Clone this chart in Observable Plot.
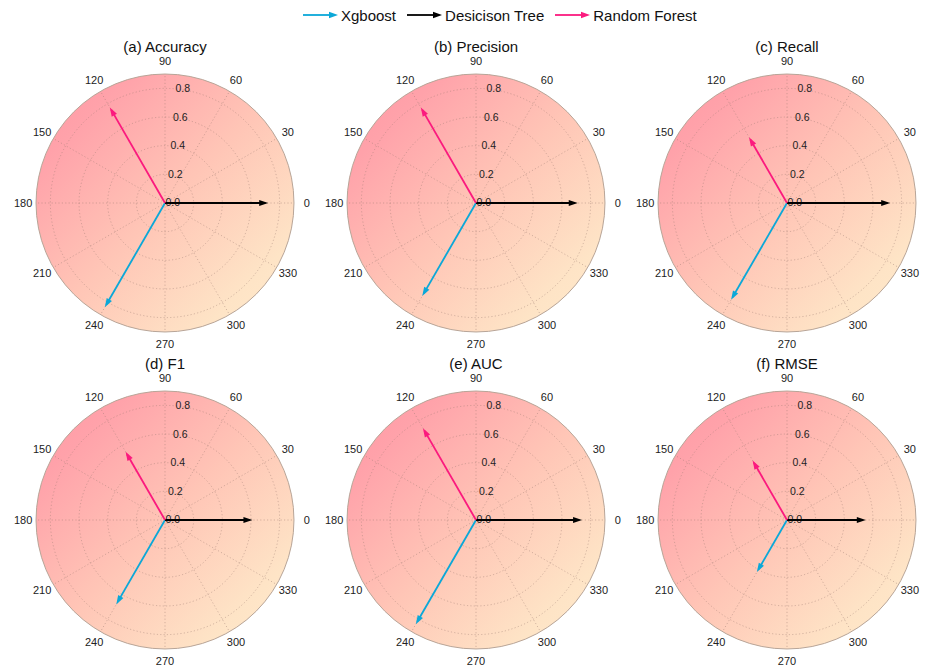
<!DOCTYPE html>
<html>
<head>
<meta charset="utf-8">
<script src="https://cdn.jsdelivr.net/npm/d3@7"></script>
<script src="https://cdn.jsdelivr.net/npm/@observablehq/plot@0.6"></script>
<style>
  html, body { margin: 0; padding: 0; background: #fff; overflow: hidden; width: 925px; height: 668px; }
  body { font-family: "Liberation Sans", Arial, Helvetica, sans-serif; color: #111; }
  #legend { height: 30px; display: flex; align-items: center; padding-left: 303px; font-size: 15px; box-sizing: border-box; }
  #legend .item { display: flex; align-items: center; margin-right: 11px; }
  #legend svg { margin-right: 3px; }
  #chart svg { display: block; }
</style>
</head>
<body>
<div id="legend"></div>
<div id="chart"></div>
<script>
// Model comparison: each metric drawn as three vectors on a polar grid,
// one per model, with arrow length equal to the metric value.
const metrics = ["(a) Accuracy", "(b) Precision", "(c) Recall", "(d) F1", "(e) AUC", "(f) RMSE"];
const models = ["Xgboost", "Desicison Tree", "Random Forest"];
const modelAngles = [240, 0, 120];
const modelColors = ["#0ba8d8", "#000000", "#fb1a7e"];

const xgboost      = [0.84, 0.75, 0.78, 0.68, 0.84, 0.42];
const decisionTree = [0.72, 0.71, 0.72, 0.61, 0.74, 0.55];
const randomForest = [0.77, 0.77, 0.53, 0.55, 0.74, 0.48];

const angleTicks = [0, 30, 60, 90, 120, 150, 180, 210, 240, 270, 300, 330];
const ringTicks = [0.2, 0.4, 0.6, 0.8];
const radialLabels = [0.0, 0.2, 0.4, 0.6, 0.8];
const rMax = 0.9;

// layout
const PX = 143.3;              // pixels per unit of radius
const COL_STEP = 311, ROW_STEP = 317;
const NCOL = 3, NROW = 2;

const series = [xgboost, decisionTree, randomForest];
const panels = metrics.map((title, i) => ({title, col: i % NCOL, row: Math.floor(i / NCOL)}));
const arrows = [];
panels.forEach((p, i) => {
  models.forEach((model, k) => {
    arrows.push({...p, model, angle: modelAngles[k], value: series[k][i]});
  });
});

const rad = a => a * Math.PI / 180;
const cx = (r, a) => r * Math.cos(rad(a));
const cy = (r, a) => r * Math.sin(rad(a));
const zero = () => 0;

// filled narrow head drawn by the vector mark
const head = {
  draw(context, l) {
    context.moveTo(0, -l);
    context.lineTo(-3, 0);
    context.lineTo(3, 0);
    context.closePath();
  }
};

const xHalf = COL_STEP / 2 / PX;
const yHalf = ROW_STEP / 2 / PX;

const chart = Plot.plot({
  width: 8.5 + COL_STEP * NCOL,
  height: 13.5 + ROW_STEP * NROW,
  marginLeft: 8.5, marginRight: 0, marginTop: 13.5, marginBottom: 0,
  style: {fontFamily: "Liberation Sans, Arial, sans-serif", background: "transparent", overflow: "visible", maxWidth: "none"},
  fx: {domain: [0, 1, 2], padding: 0, axis: null},
  fy: {domain: [0, 1], padding: 0, axis: null},
  x: {domain: [-xHalf, xHalf], axis: null},
  y: {domain: [-yHalf, yHalf], axis: null},
  r: {type: "linear", domain: [0, 1], range: [0, PX]},
  color: {domain: models, range: modelColors},
  marks: [
    // gradient background disc
    Plot.dot([rMax], {x: zero, y: zero, r: d => d, fill: "url(#diskGrad)", stroke: "none"}),
    // dotted rings
    Plot.dot(ringTicks, {x: zero, y: zero, r: d => d, fill: "none", stroke: "#9a7a70", strokeOpacity: 0.55, strokeWidth: 0.8, strokeDasharray: "1.2,2.2"}),
    // dotted spokes
    Plot.link(angleTicks, {x1: zero, y1: zero, x2: a => cx(rMax, a), y2: a => cy(rMax, a), stroke: "#9a7a70", strokeOpacity: 0.55, strokeWidth: 0.8, strokeDasharray: "1.2,2.2"}),
    // outer boundary
    Plot.dot([rMax], {x: zero, y: zero, r: d => d, fill: "none", stroke: "#b8a598", strokeWidth: 1}),
    // angle labels
    Plot.text(angleTicks, {x: a => cx(0.99, a), y: a => cy(0.99, a), text: a => String(a), fontSize: 11, fill: "#222"}),
    // radial labels
    Plot.text(radialLabels, {x: v => cx(v, 85), y: v => cy(v, 85), text: v => v.toFixed(1), textAnchor: "start", dx: 0.5, fontSize: 10.5, fill: "#222"}),
    // arrow shafts
    Plot.link(arrows, {fx: "col", fy: "row", x1: zero, y1: zero,
      x2: d => cx(d.value - 0.02, d.angle), y2: d => cy(d.value - 0.02, d.angle),
      stroke: "model", strokeWidth: 1.8}),
    // arrow heads
    Plot.vector(arrows, {fx: "col", fy: "row",
      x: d => cx(d.value, d.angle), y: d => cy(d.value, d.angle),
      rotate: d => 90 - d.angle, length: 9, anchor: "end", shape: head,
      fill: "model", stroke: "none"}),
    // panel titles
    Plot.text(panels, {fx: "col", fy: "row", x: zero, y: () => 1.085, text: "title", fontSize: 15, fill: "#111"})
  ]
});

// gradient definition for the discs
const ns = "http://www.w3.org/2000/svg";
const defs = document.createElementNS(ns, "defs");
const grad = document.createElementNS(ns, "linearGradient");
grad.setAttribute("id", "diskGrad");
grad.setAttribute("x1", "0"); grad.setAttribute("y1", "0");
grad.setAttribute("x2", "1"); grad.setAttribute("y2", "1");
[["0", "#ff97a3"], ["0.18", "#ffa2aa"], ["0.5", "#ffc5b6"], ["0.82", "#fee4c6"], ["1", "#ffebcd"]].forEach(([o, c]) => {
  const s = document.createElementNS(ns, "stop");
  s.setAttribute("offset", o);
  s.setAttribute("stop-color", c);
  grad.appendChild(s);
});
defs.appendChild(grad);
chart.insertBefore(defs, chart.firstChild);
document.getElementById("chart").appendChild(chart);

// legend with arrow swatches
const legend = document.getElementById("legend");
models.forEach((m, k) => {
  const item = document.createElement("div");
  item.className = "item";
  item.innerHTML = `<svg width="35" height="10" viewBox="0 0 35 10">
      <line x1="0" y1="5" x2="28" y2="5" stroke="${modelColors[k]}" stroke-width="1.8"/>
      <polygon points="26,1.8 35,5 26,8.2" fill="${modelColors[k]}"/>
    </svg><span>${m}</span>`;
  legend.appendChild(item);
});
</script>
</body>
</html>
